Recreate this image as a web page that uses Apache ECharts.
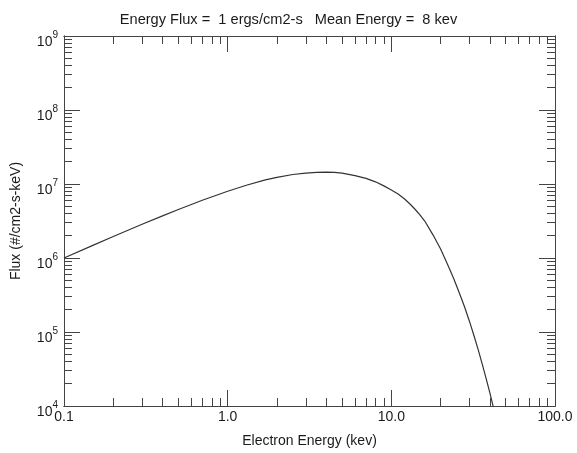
<!DOCTYPE html>
<html><head><meta charset="utf-8">
<script src="https://cdn.jsdelivr.net/npm/echarts@6/dist/echarts.min.js"></script>
<style>html,body{margin:0;padding:0;background:#fff}#c{width:577px;height:453px}</style>
</head><body><div id="c"></div>
<script>
// Electron energy (keV)
var energy = [0.1, 0.15, 0.2, 0.3, 0.4, 0.5, 0.7, 1.0, 1.3, 1.7, 2.0, 2.5, 3.0, 3.5, 4.0, 4.5, 5, 6, 7, 8, 9, 10, 11, 12, 13, 14, 15, 16, 18, 20, 22, 24, 26, 28, 30, 32, 34, 36, 38, 40, 42];
// Flux (#/cm2-s-keV)
var flux = [1.0e6, 1.483e6, 1.95e6, 2.858e6, 3.715e6, 4.53e6, 6.03e6, 7.98e6, 9.61e6, 1.138e7, 1.23e7, 1.343e7, 1.406e7, 1.435e7, 1.445e7, 1.435e7, 1.406e7, 1.30e7, 1.19e7, 1.07e7, 9.44e6, 8.32e6, 7.33e6, 6.31e6, 5.37e6, 4.52e6, 3.80e6, 3.16e6, 2.04e6, 1.32e6, 8.32e5, 5.31e5, 3.39e5, 2.19e5, 1.40e5, 8.91e4, 5.69e4, 3.63e4, 2.32e4, 1.50e4, 9.66e3];
var xMajor = [0.1, 1, 10, 100];
var xTickLabels = ['0.1', '1.0', '10.0', '100.0'];
var yMajor = [1e4, 1e5, 1e6, 1e7, 1e8, 1e9];
var titleText = 'Energy Flux =  1 ergs/cm2-s   Mean Energy =  8 kev';
var xName = 'Electron Energy (kev)';
var yName = 'Flux (#/cm2-s-keV)';

function minorsOf(majors) {
  var out = [];
  for (var i = 0; i < majors.length - 1; i++) {
    for (var k = 2; k <= 9; k++) out.push(majors[i] * k);
  }
  return out;
}
var xMinor = minorsOf(xMajor);
var yMinor = minorsOf(yMajor);

var axisColor = '#444';
var textColor = '#1a1a1a';
var font = 'Liberation Sans, Arial, Helvetica, sans-serif';

function xAxisDef(pos, ticks, len, showLabel) {
  return {
    type: 'log', logBase: 10, min: 0.1, max: 100, position: pos,
    axisLine: {show: true, lineStyle: {color: axisColor, width: 1}},
    axisTick: {show: true, inside: true, length: len, customValues: ticks, lineStyle: {color: axisColor, width: 1}},
    axisLabel: {show: showLabel, customValues: xMajor, fontFamily: font, fontSize: 14, color: textColor, margin: 4,
      formatter: function (v) { var i = xMajor.findIndex(function (m) { return Math.abs(m - v) / m < 1e-6; }); return i >= 0 ? xTickLabels[i] : ''; }},
    splitLine: {show: false}, minorTick: {show: false},
    name: showLabel ? xName : '', nameLocation: 'middle', nameGap: 28,
    nameTextStyle: {fontFamily: font, fontSize: 14, color: textColor}
  };
}
function yAxisDef(pos, ticks, len, showLabel) {
  return {
    type: 'log', logBase: 10, min: 1e4, max: 1e9, position: pos,
    axisLine: {show: true, lineStyle: {color: axisColor, width: 1}},
    axisTick: {show: true, inside: true, length: len, customValues: ticks, lineStyle: {color: axisColor, width: 1}},
    axisLabel: {show: showLabel, customValues: yMajor, margin: 6, color: textColor, padding: [8, 0, 0, 0],
      formatter: function (v) { return '{b|10}{s|' + Math.round(Math.log10(v)) + '}'; },
      rich: {
        b: {fontFamily: font, fontSize: 14, color: textColor, lineHeight: 19, verticalAlign: 'bottom'},
        s: {fontFamily: font, fontSize: 10, color: textColor, lineHeight: 11, verticalAlign: 'top'}
      }},
    splitLine: {show: false}, minorTick: {show: false},
    name: showLabel ? yName : '', nameLocation: 'middle', nameGap: 41,
    nameTextStyle: {fontFamily: font, fontSize: 14, color: textColor}
  };
}

var chart = echarts.init(document.getElementById('c'), null, {renderer: 'canvas'});
chart.setOption({
  animation: false,
  backgroundColor: '#fff',
  title: {text: titleText, left: 'center', top: 7, textStyle: {fontFamily: font, fontSize: 14.6, fontWeight: 'normal', color: textColor}},
  grid: {left: 64, right: 22, top: 36, bottom: 40, containLabel: false},
  xAxis: [
    xAxisDef('bottom', xMajor, 16, true),
    xAxisDef('bottom', xMinor, 8, false),
    xAxisDef('top', xMajor, 16, false),
    xAxisDef('top', xMinor, 8, false)
  ],
  yAxis: [
    yAxisDef('left', yMajor, 16, true),
    yAxisDef('left', yMinor, 8, false),
    yAxisDef('right', yMajor, 16, false),
    yAxisDef('right', yMinor, 8, false)
  ],
  series: [{
    type: 'line', xAxisIndex: 0, yAxisIndex: 0, showSymbol: false, smooth: false, clip: true,
    lineStyle: {color: '#333', width: 1.2},
    data: energy.map(function (e, i) { return [e, flux[i]]; })
  }]
});
</script></body></html>
